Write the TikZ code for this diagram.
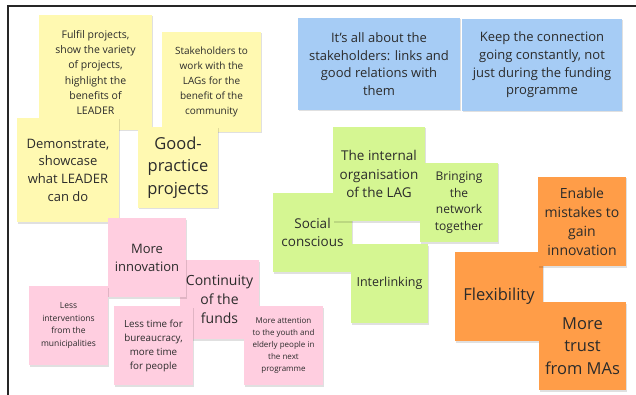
\documentclass[tikz,border=0pt]{standalone}
\usepackage{fontspec}
\setmainfont{Open Sans}
\usetikzlibrary{shadows}
\definecolor{noteyellow}{HTML}{FFF9B1}
\definecolor{noteblue}{HTML}{A6CCF5}
\definecolor{notegreen}{HTML}{D5F692}
\definecolor{noteorange}{HTML}{FF9D48}
\definecolor{notepink}{HTML}{FFCEE0}
\definecolor{notetext}{HTML}{2B2B2B}
\tikzset{
	note/.style={fill=#1, text=notetext, align=center, inner sep=0pt,
		drop shadow={shadow xshift=1pt, shadow yshift=-1.5pt, fill=black, opacity=0.12}},
	fs/.style 2 args={font=\fontsize{#1}{#2}\selectfont}
}
\begin{document}
\begin{tikzpicture}[x=1pt, y=-1pt]
		\useasboundingbox (0, 0) rectangle (636, 395);
		\draw[line width=2pt, black!85] (8, 395) -- (8, 6) -- (636, 6);
		
		\node[note=noteyellow, minimum width=113, minimum height=115, fs={10.5}{15.3}] (fulfil) at (95.5, 72.5) {Fulfil projects,\\show the variety\\of projects,\\highlight the\\benefits of\\LEADER};
		\node[note=noteyellow, minimum width=99, minimum height=100, fs={10}{15}] (stakeholders) at (211.5, 82) {Stakeholders to\\work with the\\LAGs for the\\benefit of the\\community};
		\node[note=noteyellow, minimum width=102, minimum height=104, fs={13}{17.7}] (demonstrate) at (68, 170) {Demonstrate,\\showcase\\what LEADER\\can do};
		\node[note=noteyellow, minimum width=80, minimum height=81, fs={16.5}{22.7}] (goodpractice) at (178, 167.5) {Good-\\practice\\projects};
		
		\node[note=noteblue, minimum width=162, minimum height=92, fs={13}{17.7}] (allabout) at (379, 64) {It's all about the\\stakeholders: links and\\good relations with\\them};
		\node[note=noteblue, minimum width=160, minimum height=92, fs={13}{17.7}] (connection) at (542, 65) {Keep the connection\\going constantly, not\\just during the funding\\programme};
		
		\node[note=notegreen, minimum width=79, minimum height=79, fs={13.5}{18.3}] (social) at (312.5, 232.5) {Social\\conscious};
		\node[note=notegreen, minimum width=92, minimum height=94, fs={13.5}{18.3}] (internal) at (379, 174) {The internal\\organisation\\of the LAG};
		\node[note=notegreen, minimum width=77, minimum height=79, fs={12.5}{17}] (interlinking) at (389.5, 283.5) {Interlinking};
		\node[note=notegreen, minimum width=78, minimum height=79, fs={12}{16.8}] (bringing) at (459, 202.5) {Bringing\\the\\network\\together};
		
		\node[note=noteorange, minimum width=88, minimum height=89, fs={16.5}{22.4}] (flexibility) at (499, 296.5) {Flexibility};
		\node[note=noteorange, minimum width=88, minimum height=89, fs={14}{19}] (mistakes) at (582, 221.5) {Enable\\mistakes to\\gain\\innovation};
		\node[note=noteorange, minimum width=87, minimum height=88, fs={16.5}{22.4}] (trust) at (582.5, 346) {More\\trust\\from MAs};
		
		\node[note=notepink, minimum width=79, minimum height=79, fs={14}{18.8}] (continuity) at (219.5, 299.5) {Continuity\\of the\\funds};
		\node[note=notepink, minimum width=78, minimum height=79, fs={13}{18}] (innovation) at (147, 257.5) {More\\innovation};
		\node[note=notepink, minimum width=79, minimum height=79, fs={8.5}{12.6}] (interventions) at (68.5, 325.5) {Less\\interventions\\from the\\municipalities};
		\node[note=notepink, minimum width=79, minimum height=79, fs={9.8}{14}] (bureaucracy) at (153.5, 345.5) {Less time for\\bureaucracy,\\more time\\for people};
		\node[note=notepink, minimum width=79, minimum height=79, fs={8}{12.1}] (attention) at (283.5, 345.5) {More attention\\to the youth and\\elderly people in\\the next\\programme};
	\end{tikzpicture}
\end{document}
